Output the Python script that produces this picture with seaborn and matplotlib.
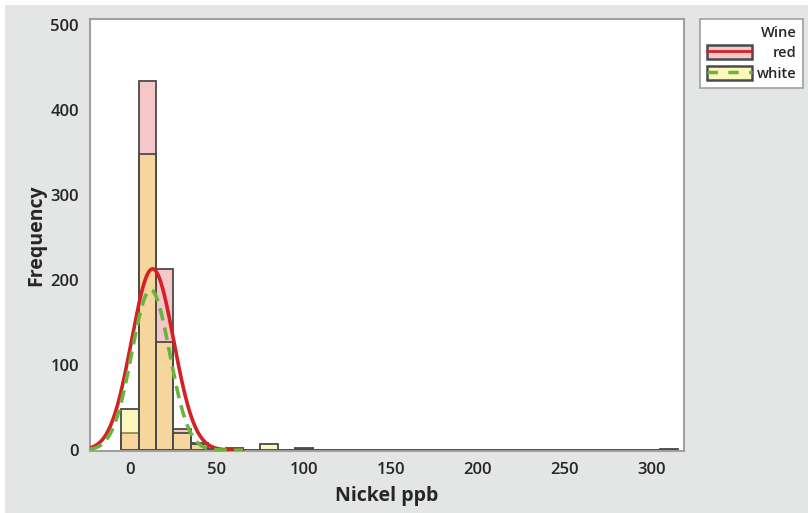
import numpy as np
import pandas as pd
import seaborn as sns
import matplotlib.pyplot as plt
from matplotlib.patches import Patch, Rectangle
from matplotlib.lines import Line2D

# Nickel (ppb) counts per 10-ppb bin, bins centred on 0, 10, ..., 310
bin_centers = list(range(0, 320, 10))
red_counts = [20, 435, 213, 25, 9, 0, 2, 0, 0, 0, 2, 0, 0, 0, 0, 0,
              0, 0, 0, 0, 0, 0, 0, 0, 0, 0, 0, 0, 0, 0, 0, 1]
white_counts = [49, 348, 127, 20, 7, 1, 1, 0, 7, 0, 1, 0, 0, 0, 0, 0,
                0, 0, 0, 0, 0, 0, 0, 0, 0, 0, 0, 0, 0, 0, 0, 0]

# normal fit parameters (mean, sd, n) for each wine
red_fit = (13.0, 12.1, 647)
white_fit = (11.9, 10.9, 515)

x_ticks = [0, 50, 100, 150, 200, 250, 300]
y_ticks = [0, 100, 200, 300, 400, 500]

df = pd.DataFrame({'nickel': bin_centers, 'red': red_counts, 'white': white_counts})

sns.set_style('white')
plt.rcParams['font.family'] = ['Open Sans', 'DejaVu Sans']

fig = plt.figure(figsize=(8.08, 5.13), dpi=100)
fig.patch.set_facecolor('white')
fig.patches.append(Rectangle((5 / 808, 0), 1, 1 - 5 / 513, transform=fig.transFigure,
                             facecolor='#e4e5e5', edgecolor='none', zorder=-10))
ax = fig.add_axes([90 / 808, 1 - 451 / 513, (683.5 - 90) / 808, (451 - 18.5) / 513])

red_face = (0.902, 0.455, 0.475, 0.4)
white_face = (0.973, 0.929, 0.357, 0.4)
edge = '#4a4a4a'

sns.histplot(data=df, x='nickel', weights='red', binwidth=10, binrange=(-5, 315), ax=ax,
             facecolor=red_face, edgecolor=edge, linewidth=1.3)
sns.histplot(data=df, x='nickel', weights='white', binwidth=10, binrange=(-5, 315), ax=ax,
             facecolor=white_face, edgecolor=edge, linewidth=1.3)

# fitted normal curves
xs = np.linspace(-23, 65, 400)
for (mu, sd, n), col, ls in [(red_fit, '#d42027', '-'), (white_fit, '#6ab43e', (0, (3.5, 2)))]:
    ys = n * 10 / (sd * np.sqrt(2 * np.pi)) * np.exp(-0.5 * ((xs - mu) / sd) ** 2)
    ax.plot(xs, ys, color=col, linestyle=ls, linewidth=2.6, zorder=5)

ax.set_xlim(-23, 318.3)
ax.set_ylim(-1, 508)
ax.set_xticks(x_ticks)
ax.set_yticks(y_ticks)
ax.set_facecolor('white')
for s in ax.spines.values():
    s.set_color('#a0a0a0')
    s.set_linewidth(1.5)
ax.tick_params(axis='both', direction='out', length=5, width=1.5, color='#a0a0a0',
               labelsize=12, labelcolor='#262626', pad=3)
for lbl in ax.get_xticklabels() + ax.get_yticklabels():
    lbl.set_fontweight('semibold')
ax.set_xlabel('Nickel ppb', fontsize=14, fontweight='bold', color='#262626', labelpad=6)
ax.set_ylabel('Frequency', fontsize=14, fontweight='bold', color='#262626', labelpad=3)

handles = [(Patch(facecolor=red_face, edgecolor=edge, linewidth=1.8),
            Line2D([], [], color='#d42027', linewidth=2)),
           (Patch(facecolor=white_face, edgecolor=edge, linewidth=1.8),
            Line2D([], [], color='#6ab43e', linewidth=2.5, linestyle=(0, (3, 3))))]
leg = fig.legend(handles, ['red', 'white'], title='Wine', loc='upper left',
                 bbox_to_anchor=(700 / 808, 1 - 19 / 513), borderaxespad=0,
                 frameon=True, fancybox=False,
                 edgecolor='#a0a0a0', framealpha=1, alignment='right',
                 prop={'size': 10.5, 'weight': 'semibold'},
                 title_fontproperties={'size': 10.5, 'weight': 'semibold'},
                 handlelength=3.1, handleheight=1.1, handletextpad=0.35,
                 borderpad=0.45, labelspacing=0.4)
leg.get_frame().set_linewidth(1.2)

# right-align legend labels
renderer = fig.canvas.get_renderer()
widths = [t.get_window_extent(renderer).width for t in leg.get_texts()]
for t, w in zip(leg.get_texts(), widths):
    t.set_position((max(widths) - w, 0))

fig.savefig('out.png', dpi=100)
